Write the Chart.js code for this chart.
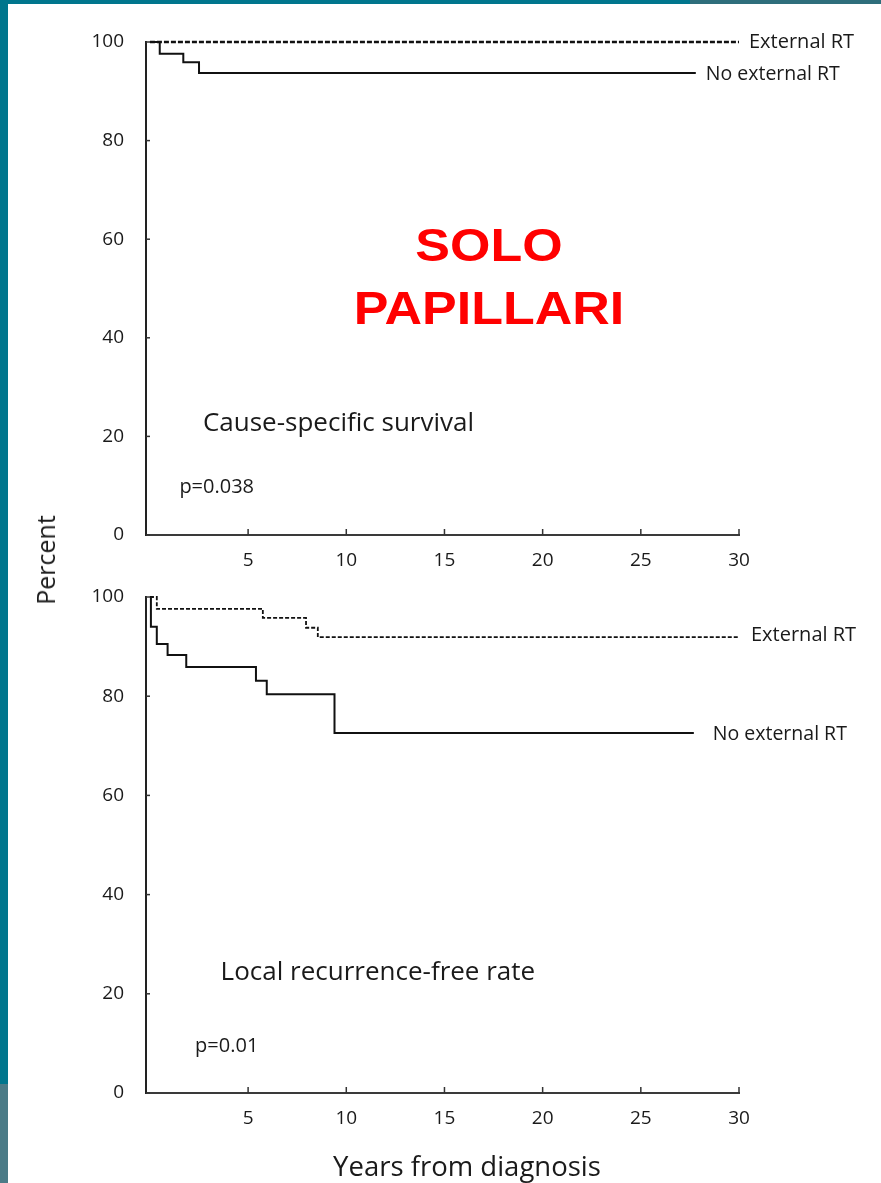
<!DOCTYPE html>
<html>
<head>
<meta charset="utf-8">
<title>Percent vs years from diagnosis</title>
<script src="https://cdn.jsdelivr.net/npm/chart.js@4.4.1/dist/chart.umd.min.js"></script>
<style>
  html, body { margin: 0; padding: 0; background: #fff; }
  body {
    width: 881px; height: 1183px; position: relative; overflow: hidden;
    font-family: 'Open Sans', sans-serif; color: #1a1a1a;
  }
  .edge { position: absolute; }
  .edge-left     { left: 0; top: 0; width: 8px; height: 1084px; background: #00768d; }
  .edge-left-low { left: 0; top: 1084px; width: 8px; height: 99px; background: #4b7b87; }
  .edge-top      { left: 0; top: 0; width: 690px; height: 4px; background: #00768d; }
  .edge-top-r    { left: 690px; top: 0; width: 191px; height: 4px; background: #2e6e7b; }
  canvas { position: absolute; left: 0; }
  #cssChart { top: 0; }
  #lrfChart { top: 560px; }
  .axis-title { position: absolute; white-space: nowrap; }
  #yTitle { left: 45px; top: 560px; font-size: 25px; transform: translate(-50%, -50%) rotate(-90deg); }
  #xTitle { left: 467px; top: 1165px; font-size: 27.5px; transform: translate(-50%, -50%); }
  .stamp {
    position: absolute; left: 489px; transform: translate(-50%, -50%) scaleX(1.13);
    font-family: 'Liberation Sans', Arial, sans-serif; font-weight: bold;
    font-size: 46px; color: #ff0000; white-space: nowrap;
  }
</style>
</head>
<body>
<div class="edge edge-left"></div>
<div class="edge edge-left-low"></div>
<div class="edge edge-top"></div>
<div class="edge edge-top-r"></div>

<canvas id="cssChart" width="881" height="580"></canvas>
<canvas id="lrfChart" width="881" height="623"></canvas>

<div class="axis-title" id="yTitle">Percent</div>
<div class="axis-title" id="xTitle">Years from diagnosis</div>
<div class="stamp" style="top:245px">SOLO</div>
<div class="stamp" style="top:308px">PAPILLARI</div>

<script>
/* ---------- data ---------- */
const xTicks = [5, 10, 15, 20, 25, 30];
const yTicks = [0, 20, 40, 60, 80, 100];
const seriesNames = ['External RT', 'No external RT'];

// Cause-specific survival
const cssExtYears = [0, 30];
const cssExtPct   = [100, 100];
const cssNoYears  = [0, 0.5, 1.7, 2.5, 27.8];
const cssNoPct    = [100, 97.6, 95.9, 93.7, 93.7];

// Local recurrence-free rate
const lrfExtYears = [0, 0.35, 5.75, 7.95, 8.55, 30];
const lrfExtPct   = [100, 97.6, 95.8, 93.8, 91.9, 91.9];
const lrfNoYears  = [0, 0.05, 0.35, 0.9, 1.85, 5.4, 5.95, 9.4, 27.7];
const lrfNoPct    = [100, 94, 90.5, 88.3, 85.9, 83.1, 80.4, 72.6, 72.6];

/* ---------- helpers ---------- */
const FONT = "'Open Sans', sans-serif";
const INK  = '#1a1a1a';

function toPoints(xs, ys) {
  return xs.map((x, i) => ({ x: x, y: ys[i] }));
}

function kmLine(label, xs, ys, dash, width, labelGap, labelDy) {
  return {
    label: label,
    data: toPoints(xs, ys),
    stepped: true,
    borderColor: '#111',
    borderWidth: width,
    borderDash: dash,
    pointRadius: 0,
    fill: false,
    clip: false,
    labelGap: labelGap,
    labelDy: labelDy
  };
}

// inner tick marks, end-of-line labels and panel notes
const kmDecor = {
  id: 'kmDecor',
  afterDatasetsDraw(chart, args, opts) {
    const { ctx, chartArea, scales: { x, y } } = chart;
    ctx.save();
    ctx.strokeStyle = '#333';
    ctx.lineWidth = 1.5;
    xTicks.forEach(v => {
      const px = x.getPixelForValue(v);
      ctx.beginPath();
      ctx.moveTo(px, chartArea.bottom);
      ctx.lineTo(px, chartArea.bottom - 6);
      ctx.stroke();
    });
    yTicks.forEach(v => {
      const py = y.getPixelForValue(v);
      ctx.beginPath();
      ctx.moveTo(chartArea.left, py);
      ctx.lineTo(chartArea.left + 4, py);
      ctx.stroke();
    });

    ctx.fillStyle = INK;
    ctx.textBaseline = 'middle';
    ctx.textAlign = 'left';
    chart.data.datasets.forEach(ds => {
      const last = ds.data[ds.data.length - 1];
      ctx.font = (ds.borderDash.length ? 20 : 19.5) + 'px ' + FONT;
      ctx.fillText(ds.label,
        x.getPixelForValue(last.x) + ds.labelGap,
        y.getPixelForValue(last.y) + ds.labelDy);
    });

    (opts.notes || []).forEach(n => {
      ctx.font = n.size + 'px ' + FONT;
      ctx.fillText(n.text, x.getPixelForValue(n.x), y.getPixelForValue(n.y));
    });
    ctx.restore();
  }
};

function buildPanel(canvasId, datasets, notes, padTop, xAxisHeight) {
  const ctx = document.getElementById(canvasId).getContext('2d');
  return new Chart(ctx, {
    type: 'line',
    data: { datasets: datasets },
    options: {
      responsive: false,
      animation: false,
      layout: { padding: { top: padTop, left: 0, right: 142, bottom: 0 } },
      plugins: {
        legend: { display: false },
        tooltip: { enabled: false },
        kmDecor: { notes: notes }
      },
      scales: {
        x: {
          type: 'linear',
          min: -0.2, max: 30,
          afterBuildTicks: s => { s.ticks = xTicks.map(v => ({ value: v })); },
          afterFit: s => { s.height = xAxisHeight; },
          grid: { drawOnChartArea: false, drawTicks: false },
          border: { color: '#3a3a3a', width: 2 },
          ticks: { color: INK, font: { size: 19, family: FONT }, padding: 14, maxRotation: 0 }
        },
        y: {
          min: 0, max: 100,
          afterBuildTicks: s => { s.ticks = yTicks.map(v => ({ value: v })); },
          afterFit: s => { s.width = 146; },
          grid: { drawOnChartArea: false, drawTicks: false },
          border: { color: '#222', width: 2 },
          ticks: { color: INK, font: { size: 19, family: FONT }, padding: 22 }
        }
      }
    },
    plugins: [kmDecor]
  });
}

/* ---------- panels ---------- */
buildPanel('cssChart', [
  kmLine(seriesNames[0], cssExtYears, cssExtPct, [5, 2], 2.4, 10, 0),
  kmLine(seriesNames[1], cssNoYears, cssNoPct, [], 2, 10, 1)
], [
  { text: 'Cause-specific survival', x: 2.7, y: 22.5, size: 26 },
  { text: 'p=0.038', x: 1.5, y: 9.7, size: 20 }
], 42, 45);

buildPanel('lrfChart', [
  kmLine(seriesNames[0], lrfExtYears, lrfExtPct, [4, 2], 1.8, 12, -2),
  kmLine(seriesNames[1], lrfNoYears, lrfNoPct, [], 2, 19, 2)
], [
  { text: 'Local recurrence-free rate', x: 3.6, y: 24.2, size: 26 },
  { text: 'p=0.01', x: 2.3, y: 9.5, size: 20 }
], 37, 90);
</script>
</body>
</html>
